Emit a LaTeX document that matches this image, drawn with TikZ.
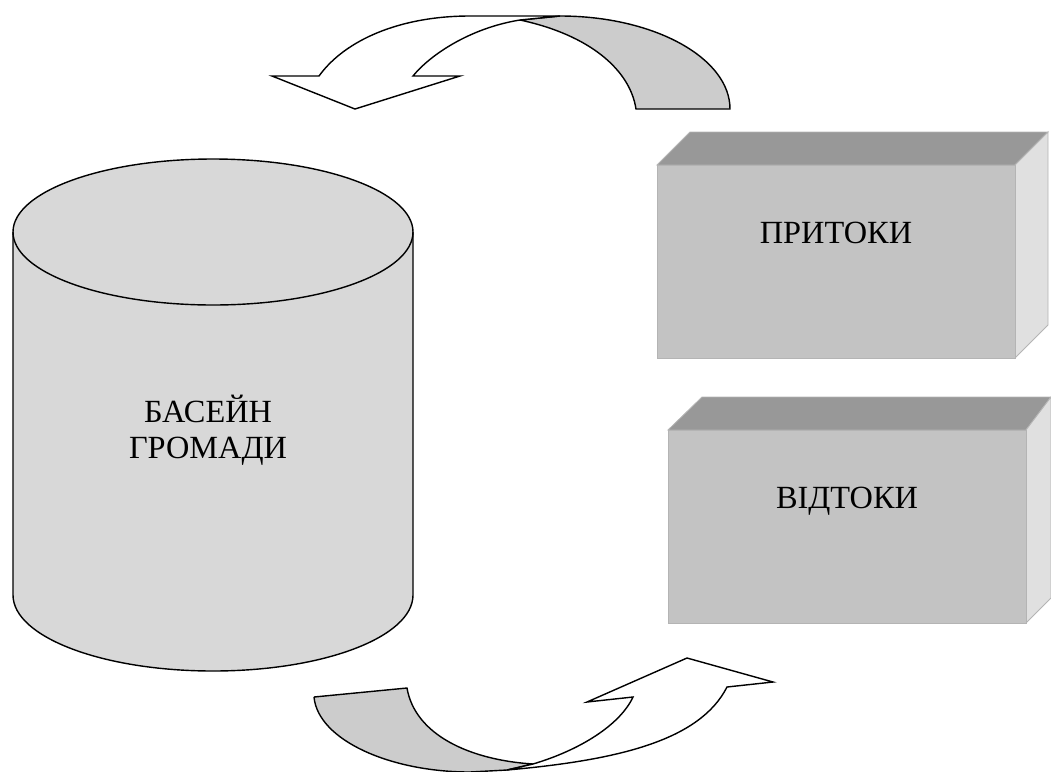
\documentclass[tikz,border=0pt]{standalone}
\usepackage{fontspec}
\setmainfont{Liberation Serif}
\usetikzlibrary{positioning}
\usepackage{xcolor}
\definecolor{tankgray}{HTML}{D8D8D8}
\definecolor{arrowgray}{HTML}{CCCCCC}
\definecolor{frontgray}{HTML}{C3C3C3}
\definecolor{topgray}{HTML}{989898}
\definecolor{sidegray}{HTML}{E0E0E0}
\definecolor{edgegray}{HTML}{B4B4B4}

\begin{document}
\begin{tikzpicture}[x=0.025cm,y=-0.025cm,line width=1pt,
    lbl/.style={font=\fontsize{23}{27}\selectfont,inner sep=0pt},
    face/.style={draw=edgegray,line width=0.6pt}]
\useasboundingbox (0,0) rectangle (1051,771);

% tank
\filldraw[fill=tankgray] (13,232) -- (13,595) arc (180:0:200 and 76) -- (413,232) arc (0:-180:200 and 73) -- cycle;
\draw (13,232) arc (180:0:200 and 73);
\node[lbl,anchor=base] (basin) at (208,422) {БАСЕЙН};
\node[lbl,anchor=base] (hromady) at (208,458) {ГРОМАДИ};

% boxes
\fill[face,fill=topgray] (657,165) -- (690,132) -- (1048,132) -- (1015,165) -- cycle;
\fill[face,fill=sidegray] (1015,165) -- (1048,132) -- (1048,325) -- (1015,358) -- cycle;
\filldraw[face,fill=frontgray] (657,165) rectangle (1015,358);
\node[lbl,anchor=base] (prytoky) at (836,243) {ПРИТОКИ};

\fill[face,fill=topgray] (668,430) -- (702,397) -- (1051,397) -- (1026,430) -- cycle;
\fill[face,fill=sidegray] (1026,430) -- (1051,397) -- (1051,598) -- (1026,623) -- cycle;
\filldraw[face,fill=frontgray] (668,430) rectangle (1026,623);
\node[lbl,anchor=base] (vidtoky) at (847,508) {ВІДТОКИ};

% upper arrow
\filldraw[fill=arrowgray] (520,20) -- (560,16) .. controls (654,16) and (730,58) .. (730,109)
  -- (636,109) .. controls (630,70) and (590,35) .. (520,20);
\filldraw[fill=white] (319,76) .. controls (345,40) and (400,16) .. (470,16) -- (560,16)
  -- (520,20) .. controls (470,28) and (430,55) .. (413,76)
  -- (460,76) -- (355,109) -- (272,76) -- cycle;

% lower arrow
\filldraw[fill=arrowgray] (314,697) -- (407,688) .. controls (415,735) and (470,760) .. (533,764)
  -- (507,770) -- (470,772) .. controls (390,772) and (318,740) .. (314,697);
\filldraw[fill=white] (533,764) .. controls (580,750) and (620,725) .. (633,697)
  -- (587,702) -- (687,658) -- (773,682) -- (727,687)
  .. controls (700,740) and (620,760) .. (507,770) -- cycle;
\end{tikzpicture}
\end{document}
